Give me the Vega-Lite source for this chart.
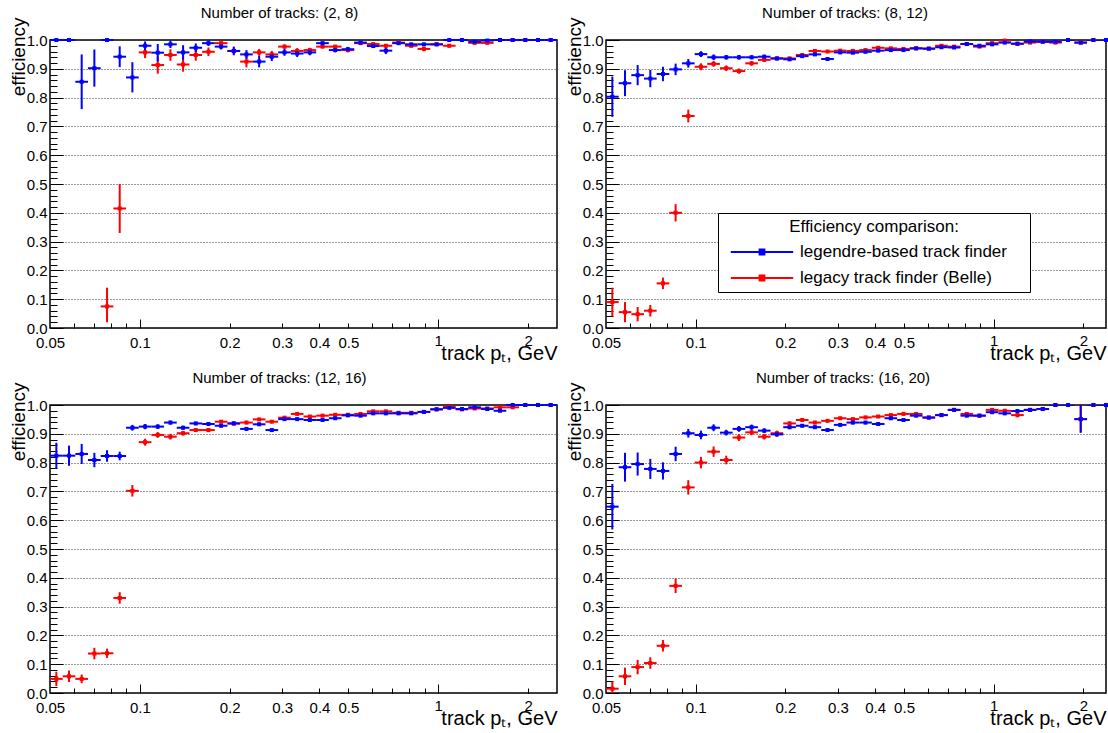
{
"$schema": "https://vega.github.io/schema/vega-lite/v6.json",
"autosize": {"type": "pad"},
"padding": {"left": 8, "top": 5, "right": 0, "bottom": 0},
"background": "white",
"config": {
  "view": {"stroke": "black", "strokeWidth": 1.5, "fill": "white"},
  "axis": {"labelFont": "Liberation Sans", "labelColor": "black", "labelFontSize": 15, "tickColor": "black", "tickWidth": 1, "domain": false, "grid": false, "titleFont": "Liberation Sans", "titleColor": "black", "titleFontWeight": "normal", "labelFlush": false, "labelOverlap": false},
  "title": {"font": "Liberation Sans", "fontSize": 15, "fontWeight": "normal", "color": "black", "anchor": "middle", "frame": "group", "baseline": "alphabetic", "offset": -4}
},
"datasets": {
"bins": [
{"b":0,"lo":0.05,"x":0.052506,"hi":0.055137},{"b":1,"lo":0.055137,"x":0.0579,"hi":0.060802},{"b":2,"lo":0.060802,"x":0.063849,"hi":0.067049},{"b":3,"lo":0.067049,"x":0.070409,"hi":0.073938},{"b":4,"lo":0.073938,"x":0.077644,"hi":0.081535},{"b":5,"lo":0.081535,"x":0.085621,"hi":0.089912},{"b":6,"lo":0.089912,"x":0.094418,"hi":0.09915},{"b":7,"lo":0.09915,"x":0.104119,"hi":0.109336},{"b":8,"lo":0.109336,"x":0.114816,"hi":0.12057},{"b":9,"lo":0.12057,"x":0.126612,"hi":0.132957},
{"b":10,"lo":0.132957,"x":0.13962,"hi":0.146618},{"b":11,"lo":0.146618,"x":0.153966,"hi":0.161682},{"b":12,"lo":0.161682,"x":0.169784,"hi":0.178294},{"b":13,"lo":0.178294,"x":0.187229,"hi":0.196613},{"b":14,"lo":0.196613,"x":0.206466,"hi":0.216814},{"b":15,"lo":0.216814,"x":0.227679,"hi":0.23909},{"b":16,"lo":0.23909,"x":0.251072,"hi":0.263655},{"b":17,"lo":0.263655,"x":0.276867,"hi":0.290745},{"b":18,"lo":0.290745,"x":0.305315,"hi":0.320617},{"b":19,"lo":0.320617,"x":0.336681,"hi":0.353553},
{"b":20,"lo":0.353553,"x":0.371271,"hi":0.389879},{"b":21,"lo":0.389879,"x":0.409417,"hi":0.429937},{"b":22,"lo":0.429937,"x":0.451482,"hi":0.474111},{"b":23,"lo":0.474111,"x":0.497871,"hi":0.522825},{"b":24,"lo":0.522825,"x":0.54902,"hi":0.576545},{"b":25,"lo":0.576545,"x":0.605436,"hi":0.63577},{"b":26,"lo":0.63577,"x":0.667622,"hi":0.701095},{"b":27,"lo":0.701095,"x":0.736223,"hi":0.773125},{"b":28,"lo":0.773125,"x":0.811875,"hi":0.85256},{"b":29,"lo":0.85256,"x":0.89528,"hi":0.940155},
{"b":30,"lo":0.940155,"x":0.987272,"hi":1.03675},{"b":31,"lo":1.03675,"x":1.08871,"hi":1.14327},{"b":32,"lo":1.14327,"x":1.200565,"hi":1.26073},{"b":33,"lo":1.26073,"x":1.323913,"hi":1.39026},{"b":34,"lo":1.39026,"x":1.459929,"hi":1.5331},{"b":35,"lo":1.5331,"x":1.60993,"hi":1.69065},{"b":36,"lo":1.69065,"x":1.775345,"hi":1.86432},{"b":37,"lo":1.86432,"x":1.957748,"hi":2.05586},{"b":38,"lo":2.05586,"x":2.158888,"hi":2.26708},{"b":39,"lo":2.26708,"x":2.380698,"hi":2.5}
],
"pts": [
{"p":"A","s":"R","b":4,"y":0.075,"l":0.02,"h":0.14},{"p":"A","s":"R","b":5,"y":0.415,"l":0.33,"h":0.5},{"p":"A","s":"R","b":7,"y":0.957,"l":0.937,"h":0.977},{"p":"A","s":"R","b":8,"y":0.913,"l":0.883,"h":0.943},{"p":"A","s":"R","b":9,"y":0.948,"l":0.928,"h":0.968},{"p":"A","s":"R","b":10,"y":0.915,"l":0.89,"h":0.94},{"p":"A","s":"R","b":11,"y":0.948,"l":0.928,"h":0.968},{"p":"A","s":"R","b":12,"y":0.959,"l":0.944,"h":0.974},{"p":"A","s":"R","b":13,"y":0.989,"l":0.983,"h":0.995},{"p":"A","s":"R","b":14,"y":0.962,"l":0.95,"h":0.974},
{"p":"A","s":"R","b":15,"y":0.925,"l":0.905,"h":0.945},{"p":"A","s":"R","b":16,"y":0.957,"l":0.945,"h":0.969},{"p":"A","s":"R","b":17,"y":0.95,"l":0.938,"h":0.962},{"p":"A","s":"R","b":18,"y":0.977,"l":0.969,"h":0.985},{"p":"A","s":"R","b":19,"y":0.962,"l":0.952,"h":0.972},{"p":"A","s":"R","b":20,"y":0.965,"l":0.957,"h":0.973},{"p":"A","s":"R","b":21,"y":0.977,"l":0.971,"h":0.983},{"p":"A","s":"R","b":22,"y":0.977,"l":0.971,"h":0.983},{"p":"A","s":"R","b":23,"y":0.965,"l":0.957,"h":0.973},{"p":"A","s":"R","b":24,"y":0.989,"l":0.985,"h":0.993},
{"p":"A","s":"R","b":25,"y":0.986,"l":0.981,"h":0.991},{"p":"A","s":"R","b":26,"y":0.98,"l":0.974,"h":0.986},{"p":"A","s":"R","b":27,"y":0.991,"l":0.987,"h":0.995},{"p":"A","s":"R","b":28,"y":0.98,"l":0.974,"h":0.986},{"p":"A","s":"R","b":29,"y":0.969,"l":0.961,"h":0.977},{"p":"A","s":"R","b":30,"y":0.985,"l":0.981,"h":0.989},{"p":"A","s":"R","b":31,"y":0.98,"l":0.974,"h":0.986},{"p":"A","s":"R","b":32,"y":1},{"p":"A","s":"R","b":33,"y":0.99,"l":0.986,"h":0.994},{"p":"A","s":"R","b":34,"y":0.99,"l":0.986,"h":0.994},
{"p":"A","s":"R","b":35,"y":1},{"p":"A","s":"R","b":36,"y":1},{"p":"A","s":"R","b":37,"y":1},{"p":"A","s":"R","b":38,"y":1},{"p":"A","s":"R","b":39,"y":1},
{"p":"A","s":"L","b":0,"y":1},{"p":"A","s":"L","b":1,"y":1},{"p":"A","s":"L","b":2,"y":0.855,"l":0.76,"h":0.95},{"p":"A","s":"L","b":3,"y":0.902,"l":0.838,"h":0.967},{"p":"A","s":"L","b":4,"y":1},{"p":"A","s":"L","b":5,"y":0.942,"l":0.906,"h":0.978},{"p":"A","s":"L","b":6,"y":0.87,"l":0.818,"h":0.923},{"p":"A","s":"L","b":7,"y":0.98,"l":0.965,"h":0.995},{"p":"A","s":"L","b":8,"y":0.956,"l":0.926,"h":0.986},{"p":"A","s":"L","b":9,"y":0.985,"l":0.972,"h":0.998},
{"p":"A","s":"L","b":10,"y":0.957,"l":0.932,"h":0.982},{"p":"A","s":"L","b":11,"y":0.973,"l":0.958,"h":0.988},{"p":"A","s":"L","b":12,"y":0.989,"l":0.979,"h":0.999},{"p":"A","s":"L","b":13,"y":0.977,"l":0.967,"h":0.987},{"p":"A","s":"L","b":14,"y":0.962,"l":0.947,"h":0.977},{"p":"A","s":"L","b":15,"y":0.95,"l":0.935,"h":0.965},{"p":"A","s":"L","b":16,"y":0.925,"l":0.905,"h":0.945},{"p":"A","s":"L","b":17,"y":0.942,"l":0.927,"h":0.957},{"p":"A","s":"L","b":18,"y":0.957,"l":0.945,"h":0.969},{"p":"A","s":"L","b":19,"y":0.953,"l":0.941,"h":0.965},
{"p":"A","s":"L","b":20,"y":0.957,"l":0.947,"h":0.967},{"p":"A","s":"L","b":21,"y":0.989,"l":0.983,"h":0.995},{"p":"A","s":"L","b":22,"y":0.965,"l":0.957,"h":0.973},{"p":"A","s":"L","b":23,"y":0.968,"l":0.96,"h":0.976},{"p":"A","s":"L","b":24,"y":0.991,"l":0.986,"h":0.996},{"p":"A","s":"L","b":25,"y":0.979,"l":0.973,"h":0.985},{"p":"A","s":"L","b":26,"y":0.963,"l":0.951,"h":0.975},{"p":"A","s":"L","b":27,"y":0.989,"l":0.985,"h":0.993},{"p":"A","s":"L","b":28,"y":0.985,"l":0.98,"h":0.99},{"p":"A","s":"L","b":29,"y":0.985,"l":0.98,"h":0.99},
{"p":"A","s":"L","b":30,"y":0.985,"l":0.981,"h":0.989},{"p":"A","s":"L","b":31,"y":1},{"p":"A","s":"L","b":32,"y":1},{"p":"A","s":"L","b":33,"y":0.994,"l":0.991,"h":0.997},{"p":"A","s":"L","b":34,"y":0.998,"l":0.996,"h":1},{"p":"A","s":"L","b":35,"y":1},{"p":"A","s":"L","b":36,"y":1},{"p":"A","s":"L","b":37,"y":1},{"p":"A","s":"L","b":38,"y":1},{"p":"A","s":"L","b":39,"y":1},

{"p":"B","s":"R","b":0,"y":0.09,"l":0.04,"h":0.14},{"p":"B","s":"R","b":1,"y":0.055,"l":0.02,"h":0.09},{"p":"B","s":"R","b":2,"y":0.048,"l":0.023,"h":0.073},{"p":"B","s":"R","b":3,"y":0.06,"l":0.04,"h":0.08},{"p":"B","s":"R","b":4,"y":0.155,"l":0.135,"h":0.175},{"p":"B","s":"R","b":5,"y":0.4,"l":0.37,"h":0.43},{"p":"B","s":"R","b":6,"y":0.736,"l":0.714,"h":0.758},{"p":"B","s":"R","b":7,"y":0.907,"l":0.895,"h":0.919},{"p":"B","s":"R","b":8,"y":0.917,"l":0.907,"h":0.927},{"p":"B","s":"R","b":9,"y":0.902,"l":0.892,"h":0.912},
{"p":"B","s":"R","b":10,"y":0.892,"l":0.883,"h":0.901},{"p":"B","s":"R","b":11,"y":0.919,"l":0.911,"h":0.927},{"p":"B","s":"R","b":12,"y":0.931,"l":0.924,"h":0.938},{"p":"B","s":"R","b":13,"y":0.936,"l":0.93,"h":0.942},{"p":"B","s":"R","b":14,"y":0.936,"l":0.93,"h":0.942},{"p":"B","s":"R","b":15,"y":0.948,"l":0.943,"h":0.953},{"p":"B","s":"R","b":16,"y":0.962,"l":0.957,"h":0.967},{"p":"B","s":"R","b":17,"y":0.96,"l":0.955,"h":0.965},{"p":"B","s":"R","b":18,"y":0.963,"l":0.958,"h":0.968},{"p":"B","s":"R","b":19,"y":0.962,"l":0.957,"h":0.967},
{"p":"B","s":"R","b":20,"y":0.965,"l":0.961,"h":0.969},{"p":"B","s":"R","b":21,"y":0.973,"l":0.969,"h":0.977},{"p":"B","s":"R","b":22,"y":0.971,"l":0.967,"h":0.975},{"p":"B","s":"R","b":23,"y":0.969,"l":0.965,"h":0.973},{"p":"B","s":"R","b":24,"y":0.971,"l":0.967,"h":0.975},{"p":"B","s":"R","b":25,"y":0.97,"l":0.966,"h":0.974},{"p":"B","s":"R","b":26,"y":0.98,"l":0.976,"h":0.984},{"p":"B","s":"R","b":27,"y":0.977,"l":0.973,"h":0.981},{"p":"B","s":"R","b":28,"y":0.986,"l":0.983,"h":0.989},{"p":"B","s":"R","b":29,"y":0.977,"l":0.973,"h":0.981},
{"p":"B","s":"R","b":30,"y":0.989,"l":0.986,"h":0.992},{"p":"B","s":"R","b":31,"y":0.998,"l":0.996,"h":1},{"p":"B","s":"R","b":32,"y":0.987,"l":0.984,"h":0.99},{"p":"B","s":"R","b":33,"y":0.991,"l":0.988,"h":0.994},{"p":"B","s":"R","b":34,"y":0.994,"l":0.991,"h":0.997},{"p":"B","s":"R","b":35,"y":0.991,"l":0.988,"h":0.994},{"p":"B","s":"R","b":36,"y":1},{"p":"B","s":"R","b":37,"y":0.991,"l":0.988,"h":0.994},{"p":"B","s":"R","b":38,"y":1},{"p":"B","s":"R","b":39,"y":1},
{"p":"B","s":"L","b":0,"y":0.803,"l":0.733,"h":0.873},{"p":"B","s":"L","b":1,"y":0.85,"l":0.805,"h":0.895},{"p":"B","s":"L","b":2,"y":0.878,"l":0.843,"h":0.913},{"p":"B","s":"L","b":3,"y":0.866,"l":0.836,"h":0.896},{"p":"B","s":"L","b":4,"y":0.882,"l":0.857,"h":0.907},{"p":"B","s":"L","b":5,"y":0.898,"l":0.878,"h":0.918},{"p":"B","s":"L","b":6,"y":0.919,"l":0.904,"h":0.934},{"p":"B","s":"L","b":7,"y":0.951,"l":0.941,"h":0.961},{"p":"B","s":"L","b":8,"y":0.94,"l":0.93,"h":0.95},{"p":"B","s":"L","b":9,"y":0.94,"l":0.932,"h":0.948},
{"p":"B","s":"L","b":10,"y":0.94,"l":0.932,"h":0.948},{"p":"B","s":"L","b":11,"y":0.94,"l":0.933,"h":0.947},{"p":"B","s":"L","b":12,"y":0.942,"l":0.935,"h":0.949},{"p":"B","s":"L","b":13,"y":0.936,"l":0.93,"h":0.942},{"p":"B","s":"L","b":14,"y":0.933,"l":0.927,"h":0.939},{"p":"B","s":"L","b":15,"y":0.944,"l":0.938,"h":0.95},{"p":"B","s":"L","b":16,"y":0.95,"l":0.945,"h":0.955},{"p":"B","s":"L","b":17,"y":0.934,"l":0.929,"h":0.939},{"p":"B","s":"L","b":18,"y":0.957,"l":0.952,"h":0.962},{"p":"B","s":"L","b":19,"y":0.956,"l":0.951,"h":0.961},
{"p":"B","s":"L","b":20,"y":0.959,"l":0.955,"h":0.963},{"p":"B","s":"L","b":21,"y":0.963,"l":0.959,"h":0.967},{"p":"B","s":"L","b":22,"y":0.965,"l":0.961,"h":0.969},{"p":"B","s":"L","b":23,"y":0.965,"l":0.961,"h":0.969},{"p":"B","s":"L","b":24,"y":0.971,"l":0.967,"h":0.975},{"p":"B","s":"L","b":25,"y":0.97,"l":0.966,"h":0.974},{"p":"B","s":"L","b":26,"y":0.975,"l":0.971,"h":0.979},{"p":"B","s":"L","b":27,"y":0.974,"l":0.97,"h":0.978},{"p":"B","s":"L","b":28,"y":0.986,"l":0.983,"h":0.989},{"p":"B","s":"L","b":29,"y":0.98,"l":0.976,"h":0.984},
{"p":"B","s":"L","b":30,"y":0.985,"l":0.982,"h":0.988},{"p":"B","s":"L","b":31,"y":0.991,"l":0.988,"h":0.994},{"p":"B","s":"L","b":32,"y":0.987,"l":0.984,"h":0.99},{"p":"B","s":"L","b":33,"y":0.995,"l":0.993,"h":0.997},{"p":"B","s":"L","b":34,"y":0.994,"l":0.991,"h":0.997},{"p":"B","s":"L","b":35,"y":0.994,"l":0.991,"h":0.997},{"p":"B","s":"L","b":36,"y":1},{"p":"B","s":"L","b":37,"y":0.991,"l":0.988,"h":0.994},{"p":"B","s":"L","b":38,"y":1},{"p":"B","s":"L","b":39,"y":1},

{"p":"C","s":"R","b":0,"y":0.049,"l":0.024,"h":0.074},{"p":"C","s":"R","b":1,"y":0.058,"l":0.038,"h":0.078},{"p":"C","s":"R","b":2,"y":0.049,"l":0.034,"h":0.064},{"p":"C","s":"R","b":3,"y":0.137,"l":0.117,"h":0.157},{"p":"C","s":"R","b":4,"y":0.138,"l":0.122,"h":0.154},{"p":"C","s":"R","b":5,"y":0.33,"l":0.31,"h":0.35},{"p":"C","s":"R","b":6,"y":0.702,"l":0.682,"h":0.722},{"p":"C","s":"R","b":7,"y":0.871,"l":0.859,"h":0.883},{"p":"C","s":"R","b":8,"y":0.896,"l":0.886,"h":0.906},{"p":"C","s":"R","b":9,"y":0.89,"l":0.88,"h":0.9},
{"p":"C","s":"R","b":10,"y":0.902,"l":0.894,"h":0.91},{"p":"C","s":"R","b":11,"y":0.913,"l":0.906,"h":0.92},{"p":"C","s":"R","b":12,"y":0.913,"l":0.906,"h":0.92},{"p":"C","s":"R","b":13,"y":0.942,"l":0.936,"h":0.948},{"p":"C","s":"R","b":14,"y":0.936,"l":0.93,"h":0.942},{"p":"C","s":"R","b":15,"y":0.939,"l":0.933,"h":0.945},{"p":"C","s":"R","b":16,"y":0.95,"l":0.945,"h":0.955},{"p":"C","s":"R","b":17,"y":0.942,"l":0.937,"h":0.947},{"p":"C","s":"R","b":18,"y":0.956,"l":0.951,"h":0.961},{"p":"C","s":"R","b":19,"y":0.969,"l":0.965,"h":0.973},
{"p":"C","s":"R","b":20,"y":0.96,"l":0.956,"h":0.964},{"p":"C","s":"R","b":21,"y":0.963,"l":0.959,"h":0.967},{"p":"C","s":"R","b":22,"y":0.966,"l":0.962,"h":0.97},{"p":"C","s":"R","b":23,"y":0.966,"l":0.962,"h":0.97},{"p":"C","s":"R","b":24,"y":0.969,"l":0.965,"h":0.973},{"p":"C","s":"R","b":25,"y":0.978,"l":0.974,"h":0.982},{"p":"C","s":"R","b":26,"y":0.978,"l":0.974,"h":0.982},{"p":"C","s":"R","b":27,"y":0.973,"l":0.969,"h":0.977},{"p":"C","s":"R","b":28,"y":0.973,"l":0.969,"h":0.977},{"p":"C","s":"R","b":29,"y":0.976,"l":0.972,"h":0.98},
{"p":"C","s":"R","b":30,"y":0.985,"l":0.982,"h":0.988},{"p":"C","s":"R","b":31,"y":0.994,"l":0.992,"h":0.996},{"p":"C","s":"R","b":32,"y":0.985,"l":0.982,"h":0.988},{"p":"C","s":"R","b":33,"y":0.988,"l":0.985,"h":0.991},{"p":"C","s":"R","b":34,"y":0.988,"l":0.985,"h":0.991},{"p":"C","s":"R","b":35,"y":0.992,"l":0.99,"h":0.994},{"p":"C","s":"R","b":36,"y":0.992,"l":0.99,"h":0.994},{"p":"C","s":"R","b":37,"y":1},{"p":"C","s":"R","b":38,"y":1},{"p":"C","s":"R","b":39,"y":1},
{"p":"C","s":"L","b":0,"y":0.824,"l":0.779,"h":0.869},{"p":"C","s":"L","b":1,"y":0.824,"l":0.789,"h":0.859},{"p":"C","s":"L","b":2,"y":0.83,"l":0.795,"h":0.865},{"p":"C","s":"L","b":3,"y":0.809,"l":0.784,"h":0.834},{"p":"C","s":"L","b":4,"y":0.823,"l":0.803,"h":0.843},{"p":"C","s":"L","b":5,"y":0.823,"l":0.808,"h":0.838},{"p":"C","s":"L","b":6,"y":0.921,"l":0.911,"h":0.931},{"p":"C","s":"L","b":7,"y":0.925,"l":0.916,"h":0.934},{"p":"C","s":"L","b":8,"y":0.925,"l":0.917,"h":0.933},{"p":"C","s":"L","b":9,"y":0.939,"l":0.932,"h":0.946},
{"p":"C","s":"L","b":10,"y":0.921,"l":0.914,"h":0.928},{"p":"C","s":"L","b":11,"y":0.936,"l":0.93,"h":0.942},{"p":"C","s":"L","b":12,"y":0.934,"l":0.928,"h":0.94},{"p":"C","s":"L","b":13,"y":0.928,"l":0.922,"h":0.934},{"p":"C","s":"L","b":14,"y":0.936,"l":0.93,"h":0.942},{"p":"C","s":"L","b":15,"y":0.917,"l":0.911,"h":0.923},{"p":"C","s":"L","b":16,"y":0.933,"l":0.927,"h":0.939},{"p":"C","s":"L","b":17,"y":0.913,"l":0.907,"h":0.919},{"p":"C","s":"L","b":18,"y":0.951,"l":0.946,"h":0.956},{"p":"C","s":"L","b":19,"y":0.951,"l":0.946,"h":0.956},
{"p":"C","s":"L","b":20,"y":0.948,"l":0.943,"h":0.953},{"p":"C","s":"L","b":21,"y":0.948,"l":0.943,"h":0.953},{"p":"C","s":"L","b":22,"y":0.954,"l":0.949,"h":0.959},{"p":"C","s":"L","b":23,"y":0.964,"l":0.96,"h":0.968},{"p":"C","s":"L","b":24,"y":0.963,"l":0.959,"h":0.967},{"p":"C","s":"L","b":25,"y":0.971,"l":0.967,"h":0.975},{"p":"C","s":"L","b":26,"y":0.971,"l":0.967,"h":0.975},{"p":"C","s":"L","b":27,"y":0.971,"l":0.967,"h":0.975},{"p":"C","s":"L","b":28,"y":0.971,"l":0.967,"h":0.975},{"p":"C","s":"L","b":29,"y":0.976,"l":0.972,"h":0.98},
{"p":"C","s":"L","b":30,"y":0.985,"l":0.982,"h":0.988},{"p":"C","s":"L","b":31,"y":0.99,"l":0.988,"h":0.992},{"p":"C","s":"L","b":32,"y":0.986,"l":0.983,"h":0.989},{"p":"C","s":"L","b":33,"y":0.992,"l":0.99,"h":0.994},{"p":"C","s":"L","b":34,"y":0.986,"l":0.983,"h":0.989},{"p":"C","s":"L","b":35,"y":0.98,"l":0.976,"h":0.984},{"p":"C","s":"L","b":36,"y":1},{"p":"C","s":"L","b":37,"y":1},{"p":"C","s":"L","b":38,"y":1},{"p":"C","s":"L","b":39,"y":1},

{"p":"D","s":"R","b":0,"y":0.015,"l":0,"h":0.04},{"p":"D","s":"R","b":1,"y":0.058,"l":0.028,"h":0.088},{"p":"D","s":"R","b":2,"y":0.09,"l":0.065,"h":0.115},{"p":"D","s":"R","b":3,"y":0.104,"l":0.084,"h":0.124},{"p":"D","s":"R","b":4,"y":0.164,"l":0.144,"h":0.184},{"p":"D","s":"R","b":5,"y":0.372,"l":0.347,"h":0.397},{"p":"D","s":"R","b":6,"y":0.714,"l":0.689,"h":0.739},{"p":"D","s":"R","b":7,"y":0.8,"l":0.78,"h":0.82},{"p":"D","s":"R","b":8,"y":0.838,"l":0.82,"h":0.856},{"p":"D","s":"R","b":9,"y":0.809,"l":0.794,"h":0.824},
{"p":"D","s":"R","b":10,"y":0.887,"l":0.875,"h":0.899},{"p":"D","s":"R","b":11,"y":0.905,"l":0.895,"h":0.915},{"p":"D","s":"R","b":12,"y":0.89,"l":0.88,"h":0.9},{"p":"D","s":"R","b":13,"y":0.902,"l":0.893,"h":0.911},{"p":"D","s":"R","b":14,"y":0.936,"l":0.929,"h":0.943},{"p":"D","s":"R","b":15,"y":0.948,"l":0.942,"h":0.954},{"p":"D","s":"R","b":16,"y":0.939,"l":0.933,"h":0.945},{"p":"D","s":"R","b":17,"y":0.945,"l":0.939,"h":0.951},{"p":"D","s":"R","b":18,"y":0.954,"l":0.949,"h":0.959},{"p":"D","s":"R","b":19,"y":0.951,"l":0.946,"h":0.956},
{"p":"D","s":"R","b":20,"y":0.957,"l":0.952,"h":0.962},{"p":"D","s":"R","b":21,"y":0.96,"l":0.955,"h":0.965},{"p":"D","s":"R","b":22,"y":0.965,"l":0.96,"h":0.97},{"p":"D","s":"R","b":23,"y":0.969,"l":0.965,"h":0.973},{"p":"D","s":"R","b":24,"y":0.969,"l":0.965,"h":0.973},{"p":"D","s":"R","b":25,"y":0.957,"l":0.952,"h":0.962},{"p":"D","s":"R","b":26,"y":0.965,"l":0.96,"h":0.97},{"p":"D","s":"R","b":27,"y":0.983,"l":0.979,"h":0.987},{"p":"D","s":"R","b":28,"y":0.969,"l":0.965,"h":0.973},{"p":"D","s":"R","b":29,"y":0.963,"l":0.958,"h":0.968},
{"p":"D","s":"R","b":30,"y":0.983,"l":0.979,"h":0.987},{"p":"D","s":"R","b":31,"y":0.98,"l":0.976,"h":0.984},{"p":"D","s":"R","b":32,"y":0.965,"l":0.957,"h":0.973},{"p":"D","s":"R","b":33,"y":0.983,"l":0.979,"h":0.987},{"p":"D","s":"R","b":34,"y":0.986,"l":0.982,"h":0.99},{"p":"D","s":"R","b":35,"y":1},{"p":"D","s":"R","b":36,"y":1},{"p":"D","s":"R","b":37,"y":0.951,"l":0.904,"h":1},{"p":"D","s":"R","b":38,"y":1},{"p":"D","s":"R","b":39,"y":1},
{"p":"D","s":"L","b":0,"y":0.647,"l":0.568,"h":0.726},{"p":"D","s":"L","b":1,"y":0.784,"l":0.734,"h":0.834},{"p":"D","s":"L","b":2,"y":0.795,"l":0.755,"h":0.835},{"p":"D","s":"L","b":3,"y":0.778,"l":0.743,"h":0.813},{"p":"D","s":"L","b":4,"y":0.771,"l":0.741,"h":0.801},{"p":"D","s":"L","b":5,"y":0.83,"l":0.805,"h":0.855},{"p":"D","s":"L","b":6,"y":0.902,"l":0.887,"h":0.917},{"p":"D","s":"L","b":7,"y":0.896,"l":0.881,"h":0.911},{"p":"D","s":"L","b":8,"y":0.921,"l":0.909,"h":0.933},{"p":"D","s":"L","b":9,"y":0.904,"l":0.894,"h":0.914},
{"p":"D","s":"L","b":10,"y":0.917,"l":0.907,"h":0.927},{"p":"D","s":"L","b":11,"y":0.923,"l":0.914,"h":0.932},{"p":"D","s":"L","b":12,"y":0.911,"l":0.903,"h":0.919},{"p":"D","s":"L","b":13,"y":0.898,"l":0.89,"h":0.906},{"p":"D","s":"L","b":14,"y":0.923,"l":0.916,"h":0.93},{"p":"D","s":"L","b":15,"y":0.928,"l":0.922,"h":0.934},{"p":"D","s":"L","b":16,"y":0.923,"l":0.917,"h":0.929},{"p":"D","s":"L","b":17,"y":0.913,"l":0.907,"h":0.919},{"p":"D","s":"L","b":18,"y":0.931,"l":0.925,"h":0.937},{"p":"D","s":"L","b":19,"y":0.939,"l":0.933,"h":0.945},
{"p":"D","s":"L","b":20,"y":0.939,"l":0.933,"h":0.945},{"p":"D","s":"L","b":21,"y":0.934,"l":0.928,"h":0.94},{"p":"D","s":"L","b":22,"y":0.954,"l":0.949,"h":0.959},{"p":"D","s":"L","b":23,"y":0.948,"l":0.943,"h":0.953},{"p":"D","s":"L","b":24,"y":0.963,"l":0.958,"h":0.968},{"p":"D","s":"L","b":25,"y":0.956,"l":0.951,"h":0.961},{"p":"D","s":"L","b":26,"y":0.965,"l":0.96,"h":0.97},{"p":"D","s":"L","b":27,"y":0.983,"l":0.979,"h":0.987},{"p":"D","s":"L","b":28,"y":0.963,"l":0.958,"h":0.968},{"p":"D","s":"L","b":29,"y":0.963,"l":0.958,"h":0.968},
{"p":"D","s":"L","b":30,"y":0.975,"l":0.97,"h":0.98},{"p":"D","s":"L","b":31,"y":0.971,"l":0.966,"h":0.976},{"p":"D","s":"L","b":32,"y":0.979,"l":0.974,"h":0.984},{"p":"D","s":"L","b":33,"y":0.983,"l":0.978,"h":0.988},{"p":"D","s":"L","b":34,"y":0.986,"l":0.981,"h":0.991},{"p":"D","s":"L","b":35,"y":1},{"p":"D","s":"L","b":36,"y":1},{"p":"D","s":"L","b":37,"y":0.951,"l":0.904,"h":1},{"p":"D","s":"L","b":38,"y":1},{"p":"D","s":"L","b":39,"y":1}
]
},
"data": {"name": "pts"},
"columns": 2,
"bounds": "flush",
"spacing": {"row": 77, "column": 49},
"resolve": {"scale": {"x": "independent", "y": "independent", "color": "independent"}, "legend": {"color": "independent"}},
"concat": [
{
 "width": 507, "height": 288,
 "title": {"text": "Number of tracks: (2, 8)", "dx": -24},
 "transform": [{"filter": "datum.p == 'A'"}, {"lookup": "b", "from": {"data": {"name": "bins"}, "key": "b", "fields": ["x", "lo", "hi"]}}],
 "resolve": {"axis": {"x": "independent", "y": "independent"}},
 "layer": [
  {"mark": {"type": "rule", "strokeWidth": 2},
   "encoding": {
    "x": {"field": "lo", "type": "quantitative", "scale": {"type": "log", "domain": [0.05, 2.5], "nice": false}, "axis": {"orient": "bottom", "values": [0.05, 0.1, 0.2, 0.3, 0.4, 0.5, 1, 2], "format": "~g", "labelExpr": "datum.value >= 1 ? '' : datum.label", "labelPadding": 16, "tickSize": -9, "tickOpacity": {"condition": {"test": "datum.value == 0.1 || datum.value == 1", "value": 1}, "value": 0}, "title": "track pₜ, GeV", "titleFontSize": 20, "titleAnchor": "end", "titleAlign": "right", "titleBaseline": "alphabetic", "titleY": 31}},
    "x2": {"field": "hi"},
    "y": {"field": "y", "type": "quantitative", "scale": {"domain": [0, 1], "nice": false, "zero": false}, "axis": {"orient": "left", "values": [0, 0.1, 0.2, 0.3, 0.4, 0.5, 0.6, 0.7, 0.8, 0.9, 1], "format": ".1f", "labelPadding": 16, "tickSize": -13, "grid": true, "gridColor": "#333333", "gridDash": [1, 2], "gridWidth": 1, "title": "efficiency", "titleFontSize": 19, "titleAngle": 270, "titleAlign": "right", "titleBaseline": "alphabetic", "titleX": -26, "titleY": -23}},
    "color": {"field": "s", "type": "nominal", "scale": {"domain": ["L", "R"], "range": ["#0000ff", "#ff0000"]}, "legend": null}}},
  {"mark": {"type": "rule", "strokeWidth": 2},
   "encoding": {
    "x": {"field": "x", "type": "quantitative", "axis": {"orient": "bottom", "values": [0.06, 0.07, 0.08, 0.09, 0.2, 0.3, 0.4, 0.5, 0.6, 0.7, 0.8, 0.9, 1, 2], "format": "~g", "labelExpr": "datum.value >= 1 ? datum.label : ''", "labelPadding": 10, "tickSize": -5, "title": null}},
    "y": {"field": "l", "type": "quantitative", "axis": {"orient": "left", "values": [0.02,0.04,0.06,0.08,0.12,0.14,0.16,0.18,0.22,0.24,0.26,0.28,0.32,0.34,0.36,0.38,0.42,0.44,0.46,0.48,0.52,0.54,0.56,0.58,0.62,0.64,0.66,0.68,0.72,0.74,0.76,0.78,0.82,0.84,0.86,0.88,0.92,0.94,0.96,0.98], "labels": false, "tickSize": -7, "title": null}},
    "y2": {"field": "h"},
    "color": {"field": "s", "type": "nominal", "scale": {"domain": ["L", "R"], "range": ["#0000ff", "#ff0000"]}, "legend": null}}},
  {"mark": {"type": "square", "size": 16, "filled": true, "opacity": 1},
   "encoding": {
    "x": {"field": "x", "type": "quantitative", "axis": null},
    "y": {"field": "y", "type": "quantitative", "axis": null},
    "color": {"field": "s", "type": "nominal", "scale": {"domain": ["L", "R"], "range": ["#0000ff", "#ff0000"]}, "legend": null}}}
 ]
},
{
 "width": 500, "height": 288,
 "title": {"text": "Number of tracks: (8, 12)", "dx": -11},
 "transform": [{"filter": "datum.p == 'B'"}, {"lookup": "b", "from": {"data": {"name": "bins"}, "key": "b", "fields": ["x", "lo", "hi"]}}],
 "resolve": {"axis": {"x": "independent", "y": "independent"}},
 "layer": [
  {"mark": {"type": "rule", "strokeWidth": 2, "clip": true},
   "encoding": {
    "x": {"field": "lo", "type": "quantitative", "scale": {"type": "log", "domain": [0.05, 2.38], "nice": false}, "axis": {"orient": "bottom", "values": [0.05, 0.1, 0.2, 0.3, 0.4, 0.5, 1, 2], "format": "~g", "labelExpr": "datum.value >= 1 ? '' : datum.label", "labelPadding": 16, "tickSize": -9, "tickOpacity": {"condition": {"test": "datum.value == 0.1 || datum.value == 1", "value": 1}, "value": 0}, "title": "track pₜ, GeV", "titleFontSize": 20, "titleAnchor": "end", "titleAlign": "right", "titleBaseline": "alphabetic", "titleY": 31}},
    "x2": {"field": "hi"},
    "y": {"field": "y", "type": "quantitative", "scale": {"domain": [0, 1], "nice": false, "zero": false}, "axis": {"orient": "left", "values": [0, 0.1, 0.2, 0.3, 0.4, 0.5, 0.6, 0.7, 0.8, 0.9, 1], "format": ".1f", "labelPadding": 16, "tickSize": -13, "grid": true, "gridColor": "#333333", "gridDash": [1, 2], "gridWidth": 1, "title": "efficiency", "titleFontSize": 19, "titleAngle": 270, "titleAlign": "right", "titleBaseline": "alphabetic", "titleX": -26, "titleY": -23}},
    "color": {"field": "s", "type": "nominal", "scale": {"domain": ["L", "R"], "range": ["#0000ff", "#ff0000"]},
      "legend": {"orient": "none", "legendX": 112, "legendY": 173, "direction": "vertical", "title": "Efficiency comparison:", "titleAnchor": "middle", "titleFont": "Liberation Sans", "titleFontSize": 17, "titleFontWeight": "normal", "titleColor": "black", "titlePadding": 7, "labelExpr": "datum.value == 'L' ? 'legendre-based track finder' : 'legacy track finder (Belle)'", "labelFont": "Liberation Sans", "labelFontSize": 17, "labelColor": "black", "labelOffset": 29, "labelLimit": 400, "symbolType": "M-3.9,0H3.9M-0.3,-0.3H0.3V0.3H-0.3ZM32.2,0", "symbolSize": 256, "symbolStrokeWidth": 2, "symbolOffset": 29, "symbolOpacity": 1, "rowPadding": 9, "padding": 6, "fillColor": "white", "strokeColor": "black", "cornerRadius": 0}}}},
  {"mark": {"type": "rule", "strokeWidth": 2},
   "encoding": {
    "x": {"field": "x", "type": "quantitative", "axis": {"orient": "bottom", "values": [0.06, 0.07, 0.08, 0.09, 0.2, 0.3, 0.4, 0.5, 0.6, 0.7, 0.8, 0.9, 1, 2], "format": "~g", "labelExpr": "datum.value >= 1 ? datum.label : ''", "labelPadding": 10, "tickSize": -5, "title": null}},
    "y": {"field": "l", "type": "quantitative", "axis": {"orient": "left", "values": [0.02,0.04,0.06,0.08,0.12,0.14,0.16,0.18,0.22,0.24,0.26,0.28,0.32,0.34,0.36,0.38,0.42,0.44,0.46,0.48,0.52,0.54,0.56,0.58,0.62,0.64,0.66,0.68,0.72,0.74,0.76,0.78,0.82,0.84,0.86,0.88,0.92,0.94,0.96,0.98], "labels": false, "tickSize": -7, "title": null}},
    "y2": {"field": "h"},
    "color": {"field": "s", "type": "nominal", "scale": {"domain": ["L", "R"], "range": ["#0000ff", "#ff0000"]},
      "legend": {"orient": "none", "legendX": 112, "legendY": 173, "direction": "vertical", "title": "Efficiency comparison:", "titleAnchor": "middle", "titleFont": "Liberation Sans", "titleFontSize": 17, "titleFontWeight": "normal", "titleColor": "black", "titlePadding": 7, "labelExpr": "datum.value == 'L' ? 'legendre-based track finder' : 'legacy track finder (Belle)'", "labelFont": "Liberation Sans", "labelFontSize": 17, "labelColor": "black", "labelOffset": 29, "labelLimit": 400, "symbolType": "M-3.9,0H3.9M-0.3,-0.3H0.3V0.3H-0.3ZM32.2,0", "symbolSize": 256, "symbolStrokeWidth": 2, "symbolOffset": 29, "symbolOpacity": 1, "rowPadding": 9, "padding": 6, "fillColor": "white", "strokeColor": "black", "cornerRadius": 0}}}},
  {"mark": {"type": "square", "size": 16, "filled": true, "opacity": 1},
   "encoding": {
    "x": {"field": "x", "type": "quantitative", "axis": null},
    "y": {"field": "y", "type": "quantitative", "axis": null},
    "color": {"field": "s", "type": "nominal", "scale": {"domain": ["L", "R"], "range": ["#0000ff", "#ff0000"]},
      "legend": {"orient": "none", "legendX": 112, "legendY": 173, "direction": "vertical", "title": "Efficiency comparison:", "titleAnchor": "middle", "titleFont": "Liberation Sans", "titleFontSize": 17, "titleFontWeight": "normal", "titleColor": "black", "titlePadding": 7, "labelExpr": "datum.value == 'L' ? 'legendre-based track finder' : 'legacy track finder (Belle)'", "labelFont": "Liberation Sans", "labelFontSize": 17, "labelColor": "black", "labelOffset": 29, "labelLimit": 400, "symbolType": "M-3.9,0H3.9M-0.3,-0.3H0.3V0.3H-0.3ZM32.2,0", "symbolSize": 256, "symbolStrokeWidth": 2, "symbolOffset": 29, "symbolOpacity": 1, "rowPadding": 9, "padding": 6, "fillColor": "white", "strokeColor": "black", "cornerRadius": 0}}}}
 ]
},
{
 "width": 507, "height": 288,
 "title": {"text": "Number of tracks: (12, 16)", "dx": -24},
 "transform": [{"filter": "datum.p == 'C'"}, {"lookup": "b", "from": {"data": {"name": "bins"}, "key": "b", "fields": ["x", "lo", "hi"]}}],
 "resolve": {"axis": {"x": "independent", "y": "independent"}},
 "layer": [
  {"mark": {"type": "rule", "strokeWidth": 2},
   "encoding": {
    "x": {"field": "lo", "type": "quantitative", "scale": {"type": "log", "domain": [0.05, 2.5], "nice": false}, "axis": {"orient": "bottom", "values": [0.05, 0.1, 0.2, 0.3, 0.4, 0.5, 1, 2], "format": "~g", "labelExpr": "datum.value >= 1 ? '' : datum.label", "labelPadding": 16, "tickSize": -9, "tickOpacity": {"condition": {"test": "datum.value == 0.1 || datum.value == 1", "value": 1}, "value": 0}, "title": "track pₜ, GeV", "titleFontSize": 20, "titleAnchor": "end", "titleAlign": "right", "titleBaseline": "alphabetic", "titleY": 31}},
    "x2": {"field": "hi"},
    "y": {"field": "y", "type": "quantitative", "scale": {"domain": [0, 1], "nice": false, "zero": false}, "axis": {"orient": "left", "values": [0, 0.1, 0.2, 0.3, 0.4, 0.5, 0.6, 0.7, 0.8, 0.9, 1], "format": ".1f", "labelPadding": 16, "tickSize": -13, "grid": true, "gridColor": "#333333", "gridDash": [1, 2], "gridWidth": 1, "title": "efficiency", "titleFontSize": 19, "titleAngle": 270, "titleAlign": "right", "titleBaseline": "alphabetic", "titleX": -26, "titleY": -23}},
    "color": {"field": "s", "type": "nominal", "scale": {"domain": ["L", "R"], "range": ["#0000ff", "#ff0000"]}, "legend": null}}},
  {"mark": {"type": "rule", "strokeWidth": 2},
   "encoding": {
    "x": {"field": "x", "type": "quantitative", "axis": {"orient": "bottom", "values": [0.06, 0.07, 0.08, 0.09, 0.2, 0.3, 0.4, 0.5, 0.6, 0.7, 0.8, 0.9, 1, 2], "format": "~g", "labelExpr": "datum.value >= 1 ? datum.label : ''", "labelPadding": 10, "tickSize": -5, "title": null}},
    "y": {"field": "l", "type": "quantitative", "axis": {"orient": "left", "values": [0.02,0.04,0.06,0.08,0.12,0.14,0.16,0.18,0.22,0.24,0.26,0.28,0.32,0.34,0.36,0.38,0.42,0.44,0.46,0.48,0.52,0.54,0.56,0.58,0.62,0.64,0.66,0.68,0.72,0.74,0.76,0.78,0.82,0.84,0.86,0.88,0.92,0.94,0.96,0.98], "labels": false, "tickSize": -7, "title": null}},
    "y2": {"field": "h"},
    "color": {"field": "s", "type": "nominal", "scale": {"domain": ["L", "R"], "range": ["#0000ff", "#ff0000"]}, "legend": null}}},
  {"mark": {"type": "square", "size": 16, "filled": true, "opacity": 1},
   "encoding": {
    "x": {"field": "x", "type": "quantitative", "axis": null},
    "y": {"field": "y", "type": "quantitative", "axis": null},
    "color": {"field": "s", "type": "nominal", "scale": {"domain": ["L", "R"], "range": ["#0000ff", "#ff0000"]}, "legend": null}}}
 ]
},
{
 "width": 500, "height": 288,
 "title": {"text": "Number of tracks: (16, 20)", "dx": -13},
 "transform": [{"filter": "datum.p == 'D'"}, {"lookup": "b", "from": {"data": {"name": "bins"}, "key": "b", "fields": ["x", "lo", "hi"]}}],
 "resolve": {"axis": {"x": "independent", "y": "independent"}},
 "layer": [
  {"mark": {"type": "rule", "strokeWidth": 2, "clip": true},
   "encoding": {
    "x": {"field": "lo", "type": "quantitative", "scale": {"type": "log", "domain": [0.05, 2.38], "nice": false}, "axis": {"orient": "bottom", "values": [0.05, 0.1, 0.2, 0.3, 0.4, 0.5, 1, 2], "format": "~g", "labelExpr": "datum.value >= 1 ? '' : datum.label", "labelPadding": 16, "tickSize": -9, "tickOpacity": {"condition": {"test": "datum.value == 0.1 || datum.value == 1", "value": 1}, "value": 0}, "title": "track pₜ, GeV", "titleFontSize": 20, "titleAnchor": "end", "titleAlign": "right", "titleBaseline": "alphabetic", "titleY": 31}},
    "x2": {"field": "hi"},
    "y": {"field": "y", "type": "quantitative", "scale": {"domain": [0, 1], "nice": false, "zero": false}, "axis": {"orient": "left", "values": [0, 0.1, 0.2, 0.3, 0.4, 0.5, 0.6, 0.7, 0.8, 0.9, 1], "format": ".1f", "labelPadding": 16, "tickSize": -13, "grid": true, "gridColor": "#333333", "gridDash": [1, 2], "gridWidth": 1, "title": "efficiency", "titleFontSize": 19, "titleAngle": 270, "titleAlign": "right", "titleBaseline": "alphabetic", "titleX": -26, "titleY": -23}},
    "color": {"field": "s", "type": "nominal", "scale": {"domain": ["L", "R"], "range": ["#0000ff", "#ff0000"]}, "legend": null}}},
  {"mark": {"type": "rule", "strokeWidth": 2},
   "encoding": {
    "x": {"field": "x", "type": "quantitative", "axis": {"orient": "bottom", "values": [0.06, 0.07, 0.08, 0.09, 0.2, 0.3, 0.4, 0.5, 0.6, 0.7, 0.8, 0.9, 1, 2], "format": "~g", "labelExpr": "datum.value >= 1 ? datum.label : ''", "labelPadding": 10, "tickSize": -5, "title": null}},
    "y": {"field": "l", "type": "quantitative", "axis": {"orient": "left", "values": [0.02,0.04,0.06,0.08,0.12,0.14,0.16,0.18,0.22,0.24,0.26,0.28,0.32,0.34,0.36,0.38,0.42,0.44,0.46,0.48,0.52,0.54,0.56,0.58,0.62,0.64,0.66,0.68,0.72,0.74,0.76,0.78,0.82,0.84,0.86,0.88,0.92,0.94,0.96,0.98], "labels": false, "tickSize": -7, "title": null}},
    "y2": {"field": "h"},
    "color": {"field": "s", "type": "nominal", "scale": {"domain": ["L", "R"], "range": ["#0000ff", "#ff0000"]}, "legend": null}}},
  {"mark": {"type": "square", "size": 16, "filled": true, "opacity": 1},
   "encoding": {
    "x": {"field": "x", "type": "quantitative", "axis": null},
    "y": {"field": "y", "type": "quantitative", "axis": null},
    "color": {"field": "s", "type": "nominal", "scale": {"domain": ["L", "R"], "range": ["#0000ff", "#ff0000"]}, "legend": null}}}
 ]
}
]
}
